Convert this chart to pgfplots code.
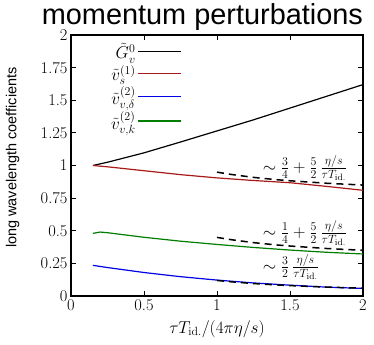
\documentclass[border=0pt]{standalone}
\usepackage{fontspec}
\setsansfont{Liberation Sans}
\usepackage{pgfplots}
\pgfplotsset{compat=1.18}
\definecolor{cred}{RGB}{170,25,25}
\definecolor{cblue}{RGB}{0,0,230}
\definecolor{cgreen}{RGB}{0,125,0}
\begin{document}
\begin{tikzpicture}
\begin{axis}[
  scale only axis,
  clip mode=individual,
  width=292bp, height=261bp,
  xmin=0, xmax=2, ymin=0, ymax=2,
  xtick={0,0.5,1,1.5,2},
  ytick={0,0.25,0.5,0.75,1,1.25,1.5,1.75,2},
  yticklabels={0,0.25,0.5,0.75,1,1.25,1.5,1.75,2},
  xticklabels={0,0.5,1,1.5,2},
  tick label style={font=\fontsize{16.5}{18}\selectfont},
  major tick length=5bp,
  axis line style={line width=1.3bp},
  tick style={line width=0.8bp, black},
  xlabel={$\tau T_{\mathrm{id.}}/(4\pi\eta/s)$},
  xlabel style={font=\fontsize{17}{19}\selectfont, at={(axis description cs:0.5,0)}, anchor=base, yshift=-37bp},
  ylabel={long wavelength coefficients},
  ylabel style={font=\sffamily\fontsize{14.5}{16}\selectfont, at={(axis description cs:-0.2,0.53)}, anchor=center},
  legend cell align=right,
  legend plot pos=right,
  legend style={draw=none, fill=none, at={(axis description cs:0.255,0.985)}, anchor=north,
     font=\fontsize{16.5}{18}\selectfont, row sep=1bp},
  legend image code/.code={\draw[#1, line width=1.2bp] (5bp,0bp) -- (48bp,0bp);},
]
\addplot[black, line width=1.2bp] coordinates {(0.15,1.0) (0.25,1.025) (0.5,1.097) (0.75,1.18) (1,1.265) (1.25,1.35) (1.5,1.44) (1.75,1.53) (2,1.62)};
\addlegendentry{$\tilde{G}^0_v$}
\addplot[cred, line width=1.2bp] coordinates {(0.15,1.0) (0.25,0.99) (0.5,0.96) (0.75,0.93) (1,0.905) (1.25,0.885) (1.5,0.868) (1.75,0.84) (2,0.81)};
\addlegendentry{$\tilde{v}^{(1)}_s$}
\addplot[cblue, line width=1.2bp] coordinates {(0.15,0.235) (0.25,0.218) (0.5,0.18) (0.75,0.148) (1,0.122) (1.25,0.1) (1.5,0.083) (1.75,0.068) (2,0.058)};
\addlegendentry{$\tilde{v}^{(2)}_{v,\delta}$}
\addplot[cgreen, line width=1.2bp] coordinates {(0.15,0.48) (0.2,0.49) (0.25,0.485) (0.5,0.45) (0.75,0.42) (1,0.395) (1.25,0.372) (1.5,0.352) (1.75,0.335) (2,0.322)};
\addlegendentry{$\tilde{v}^{(2)}_{v,k}$}
\addplot[black, line width=1.5bp, dash pattern=on 7bp off 5bp, forget plot] coordinates {(1,0.949) (1.1,0.931) (1.25,0.909) (1.4,0.892) (1.5,0.883) (1.75,0.864) (2,0.850)};
\addplot[black, line width=1.5bp, dash pattern=on 7bp off 5bp, forget plot] coordinates {(1,0.449) (1.1,0.431) (1.25,0.409) (1.4,0.392) (1.5,0.383) (1.75,0.364) (2,0.350)};
\addplot[black, line width=1.5bp, dash pattern=on 7bp off 5bp, forget plot] coordinates {(1,0.119) (1.1,0.1085) (1.25,0.0955) (1.4,0.0853) (1.5,0.0796) (1.75,0.0682) (2,0.0597)};
\node[anchor=west, font=\fontsize{18.5}{20}\selectfont] at (axis cs:1.29,0.98) {$\sim\frac{3}{4}+\frac{5}{2}\,\frac{\eta/s}{\tau T_{\mathrm{id.}}}$};
\node[anchor=west, font=\fontsize{18.5}{20}\selectfont] at (axis cs:1.29,0.483) {$\sim\frac{1}{4}+\frac{5}{2}\,\frac{\eta/s}{\tau T_{\mathrm{id.}}}$};
\node[anchor=west, font=\fontsize{18.5}{20}\selectfont] at (axis cs:1.29,0.222) {$\sim\frac{3}{2}\,\frac{\eta/s}{\tau T_{\mathrm{id.}}}$};
\node[anchor=base, font=\sffamily\fontsize{29}{32}\selectfont] at (axis description cs:0.45,1) [yshift=10bp] {momentum perturbations};
\end{axis}
\pgfresetboundingbox
\path (-71bp,-49bp) rectangle (303bp,296bp);
\end{tikzpicture}
\end{document}
